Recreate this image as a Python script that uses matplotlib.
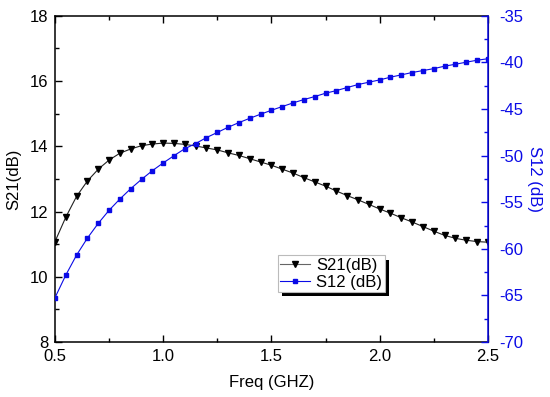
import numpy as np
import matplotlib
matplotlib.use("Agg")
import matplotlib.pyplot as plt
import matplotlib.patheffects as pe
from matplotlib.ticker import MultipleLocator

plt.rcParams["font.family"] = ["Liberation Sans", "DejaVu Sans"]
plt.rcParams["font.size"] = 12
plt.rcParams["axes.unicode_minus"] = False

# frequency points (GHz), 0.05 GHz step
freq = np.round(np.arange(0.5, 2.5001, 0.05), 3)

s21_db = [11.08, 11.83, 12.47, 12.94, 13.30, 13.58, 13.79, 13.92, 14.02, 14.07,
          14.10, 14.09, 14.06, 14.01, 13.95, 13.89, 13.80, 13.72, 13.62, 13.52,
          13.42, 13.30, 13.18, 13.04, 12.91, 12.78, 12.63, 12.49, 12.36, 12.22,
          12.08, 11.95, 11.81, 11.68, 11.54, 11.40, 11.27, 11.18, 11.12, 11.08,
          11.06]

s12_db = [-65.24, -62.81, -60.66, -58.84, -57.26, -55.86, -54.65, -53.54, -52.54, -51.61,
          -50.78, -50.00, -49.25, -48.70, -48.06, -47.51, -46.95, -46.45, -45.99, -45.55,
          -45.13, -44.73, -44.34, -43.98, -43.66, -43.30, -43.02, -42.69, -42.37, -42.12,
          -41.87, -41.58, -41.33, -41.08, -40.87, -40.66, -40.40, -40.19, -39.97, -39.76,
          -39.60]

blue = "#0a0ae6"

fig = plt.figure(figsize=(5.5, 3.97), dpi=100)
ax = fig.add_axes([0.1, 0.1385, 0.787, 0.8215])
ax2 = ax.twinx()

l1, = ax.plot(freq, s21_db, "-", color="#222222", lw=0.8, marker="v",
              ms=4.5, mfc="black", mec="black", label="S21(dB)")
l2, = ax2.plot(freq, s12_db, "-", color=blue, lw=0.8, marker="s",
               ms=3.5, mfc=blue, mec=blue, label="S12 (dB)")

ax.set_xlim(0.5, 2.5)
ax.set_ylim(8, 18)
ax2.set_ylim(-70, -35)

ax.xaxis.set_major_locator(MultipleLocator(0.5))
ax.xaxis.set_minor_locator(MultipleLocator(0.25))
ax.yaxis.set_major_locator(MultipleLocator(2))
ax.yaxis.set_minor_locator(MultipleLocator(1))
ax2.yaxis.set_major_locator(MultipleLocator(5))
ax2.yaxis.set_minor_locator(MultipleLocator(2.5))
ax.xaxis.set_major_formatter(plt.FormatStrFormatter("%.1f"))

ax.tick_params(axis="x", which="both", direction="in", top=True, labelsize=12, pad=5)
ax.tick_params(axis="x", which="major", length=5, width=1)
ax.tick_params(axis="x", which="minor", length=3, width=1)
ax.tick_params(axis="y", which="both", direction="in", right=False, labelsize=12, pad=5)
ax.tick_params(axis="y", which="major", length=5, width=1)
ax.tick_params(axis="y", which="minor", length=3, width=1)
ax2.tick_params(axis="y", which="both", direction="in", colors=blue, labelsize=12, pad=8)
ax2.tick_params(axis="y", which="major", length=5, width=1)
ax2.tick_params(axis="y", which="minor", length=3, width=1)

for s in ["left", "bottom", "top"]:
    ax.spines[s].set_linewidth(1.1)
ax2.spines["right"].set_color(blue)
ax2.spines["right"].set_linewidth(1.1)
ax2.spines["left"].set_visible(False)
ax2.spines["top"].set_visible(False)
ax2.spines["bottom"].set_visible(False)

ax.set_xlabel("Freq (GHZ)", fontsize=12, labelpad=8)
ax.set_ylabel("S21(dB)", fontsize=12, labelpad=6)
ax2.set_ylabel("S12 (dB)", fontsize=12, color=blue, rotation=270, labelpad=14)

leg = ax2.legend(handles=[l1, l2], loc="lower left", bbox_to_anchor=(0.515, 0.153),
                 borderaxespad=0, fancybox=False, framealpha=1, edgecolor="#bbbbbb",
                 fontsize=12, handlelength=1.8, handletextpad=0.35, borderpad=0.15,
                 labelspacing=0.1)
frame = leg.get_frame()
frame.set_linewidth(0.8)
frame.set_path_effects([pe.SimplePatchShadow(offset=(3, -3), shadow_rgbFace="black", alpha=1),
                        pe.Normal()])
for h in leg.legend_handles:
    h.set_color("#666666" if h.get_label() == "S21(dB)" else blue)
    h.set_markerfacecolor("black" if h.get_label() == "S21(dB)" else blue)
    h.set_markeredgecolor("black" if h.get_label() == "S21(dB)" else blue)

fig.savefig("out.png", dpi=100)
